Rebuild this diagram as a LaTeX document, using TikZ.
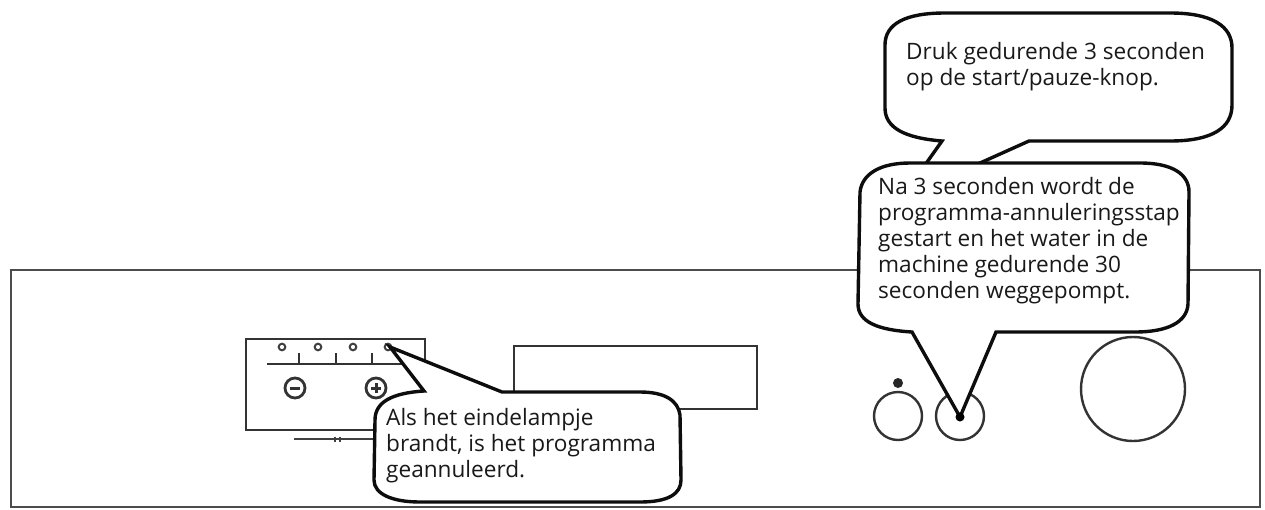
\documentclass[tikz,border=0pt]{standalone}
\usepackage{fontspec}
\setmainfont{Open Sans}
\tikzset{
  x=1pt,y=-1pt,
  bubble/.style={draw=black!95,line width=3.4pt,fill=white,line join=miter},
  part/.style={draw=black!80,line width=2.4pt},
  thin part/.style={draw=black!75,line width=2pt},
  label/.style={inner sep=0pt,anchor=base west,align=left,text=black!90,font=\fontsize{22.6}{26}\selectfont},
}
\begin{document}
\begin{tikzpicture}
\useasboundingbox (0,0) rectangle (1265,509);
\fill[white] (0,0) rectangle (1265,509);
% machine panel
\draw[black!70,line width=2.6pt] (11,270) rectangle (1260,507);
\draw[part] (246,339) rectangle (425,430);
\draw[part] (514,346) rectangle (757,409);
% indicator strip
\draw[part] (267,364) -- (405,364);
\foreach \tx in {299,336,372} \draw[part] (\tx,353) -- (\tx,364);
\foreach \lx in {282,318,353,388} \draw[thin part] (\lx,347) circle (3.3);
\draw[part,line width=2.8pt] (295,388) circle (10);
\draw[part,line width=3pt] (290,388) -- (300,388);
\draw[part,line width=2.8pt] (376,388) circle (10);
\draw[part,line width=3pt] (371,388) -- (381,388) (376,383) -- (376,393);
\draw[thin part] (294,439) -- (376,439);
\draw[thin part] (335,436.5) -- (335,441.5) (340,436.5) -- (340,441.5);
% buttons
\draw[part] (898,416) circle (24);
\fill[black!85] (898,383) circle (5);
\draw[part] (960,416) circle (24);
\draw[part] (1133,389) circle (52);
% top bubble
\draw[bubble] (942,141) .. controls (905,138) and (885,128) .. (885,108)
  -- (885,45) .. controls (885,24) and (905,13) .. (945,13)
  -- (1170,13) .. controls (1212,13) and (1232,26) .. (1232,48)
  -- (1232,105) .. controls (1232,128) and (1212,141) .. (1170,141)
  -- (1029,141) -- (960,172) -- (920,172) -- cycle;
% lower right bubble
\draw[bubble] (912,332) .. controls (878,330) and (858,322) .. (858,304)
  -- (860,192) .. controls (862,174) and (880,163) .. (910,163)
  -- (1140,163) .. controls (1172,163) and (1189,174) .. (1189,192)
  -- (1188,304) .. controls (1187,322) and (1168,332) .. (1135,332)
  -- (996,332) -- (960,417) -- cycle;
\fill[black] (960,417) circle (4.5);
% lower left bubble
\draw[bubble] (424,391) .. controls (392,393) and (375,402) .. (375,420)
  -- (374,480) .. controls (374,494) and (392,502) .. (420,502)
  -- (640,502) .. controls (668,502) and (681,494) .. (681,480)
  -- (680,415) .. controls (678,400) and (664,392) .. (640,392)
  -- (502,392) -- (390,347) -- cycle;
% texts
\node[label] (druk) at (906,85) {Druk gedurende 3 seconden\\op de start/pauze-knop.};
\node[label] (na) at (878,298) {Na 3 seconden wordt de\\programma-annuleringsstap\\gestart en het water in de\\machine gedurende 30\\seconden weggepompt.};
\node[label] (als) at (386,477) {Als het eindelampje\\brandt, is het programma\\geannuleerd.};
\end{tikzpicture}
\end{document}
